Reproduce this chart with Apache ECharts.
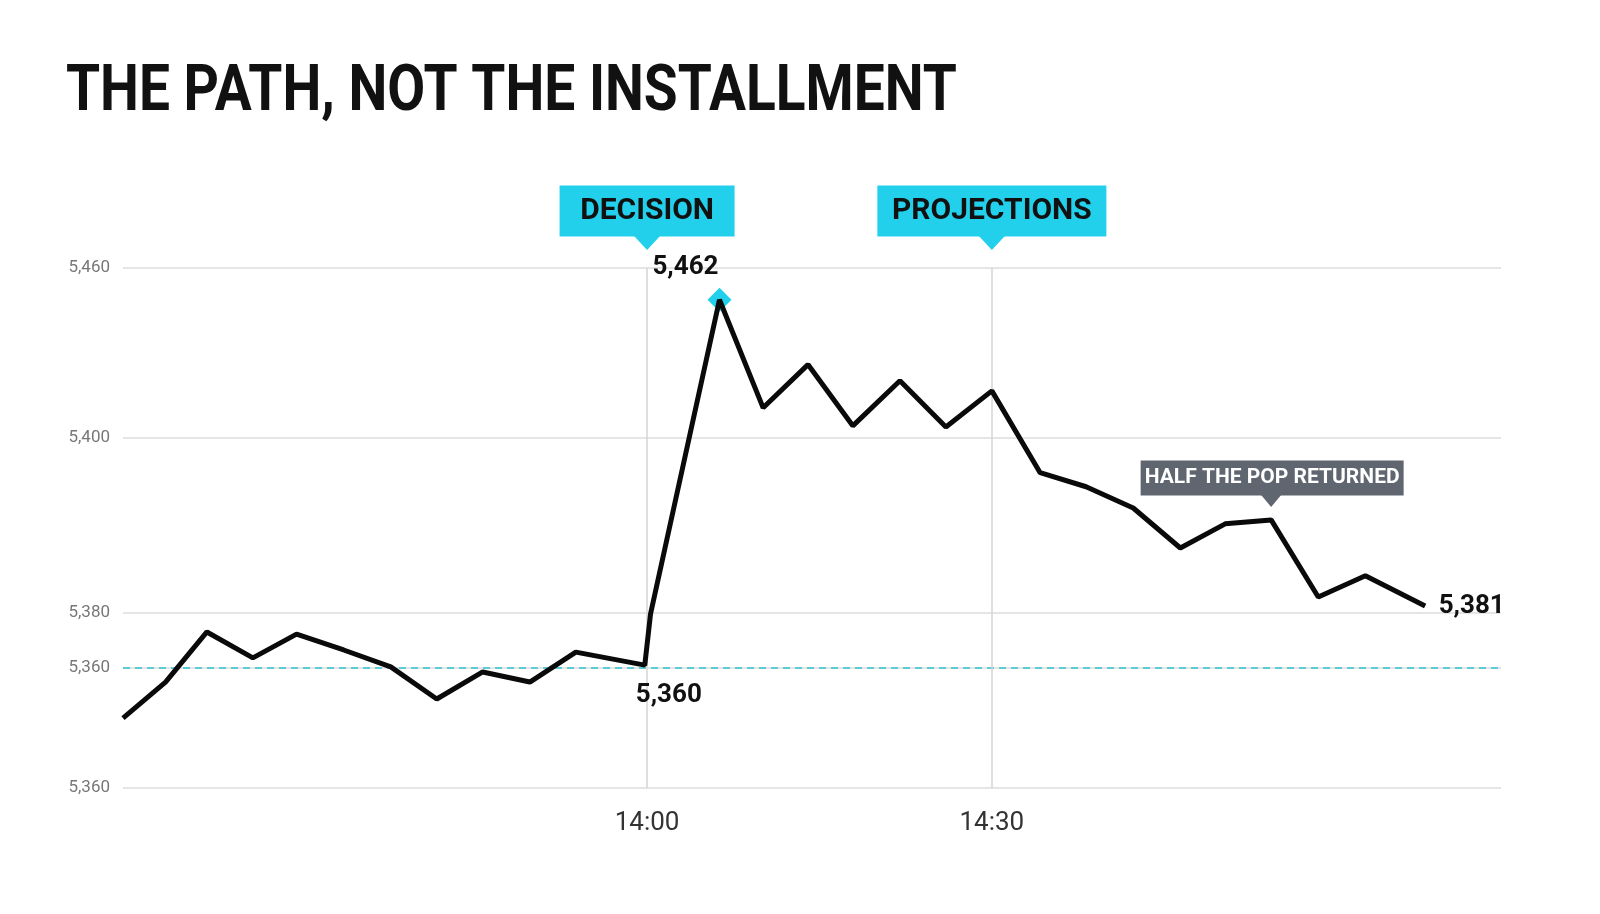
<!DOCTYPE html>
<html><head><meta charset="utf-8">
<script src="https://cdn.jsdelivr.net/npm/echarts@6/dist/echarts.min.js"></script>
<style>html,body{margin:0;background:#fff}#c{width:1600px;height:914px}</style>
</head><body><div id="c"></div>
<script>
// minutes since midnight
const times = [794.4,798.1,801.7,805.7,809.5,813.6,817.7,821.7,825.7,829.8,833.8,839.8,840.3,846.3,850.1,854,857.9,862,866,870,874.2,878.2,882.3,886.4,890.3,894.3,898.4,902.5,907.7];
const values = [5346.1,5356.1,5370,5362.8,5369.4,5365,5360.3,5351.4,5358.9,5356.1,5364.4,5360.8,5375,5462.2,5432.2,5444.2,5427.2,5439.7,5426.9,5436.9,5414.2,5410.3,5404.4,5393.3,5400,5401.1,5379.7,5385.6,5377.2];
const yTickValues = [5471,5423.9,5375.3,5360,5326.7];
const yTickLabels = ['5,460','5,400','5,380','5,360','5,360'];
const xTickValues = [840,870];
const xTickLabels = ['14:00','14:30'];
const baseline = 5360;
const CY = '#22d0ec';
const F = 'Roboto';
const yMin = 5326.7, yMax = 5471, xMin = 794.4, xMax = 914.3;

const chart = echarts.init(document.getElementById('c'));
const gridLines = yTickValues.map((v,i)=>({yAxis:v, lineStyle:{color:'#dddddd',width:1.5,type:'solid'},
  label:{show:true,position:'start',formatter:yTickLabels[i],color:'#777',fontFamily:F,fontSize:17,distance:13}}));
const vLines = xTickValues.map(v=>[{coord:[v,yMin]},{coord:[v,yMax]}]);
chart.setOption({
  animation:false,
  graphic:[{type:'text',left:66,top:62,scaleX:0.86,style:{text:'THE PATH, NOT THE INSTALLMENT',font:'bold 64px Roboto',fill:'#111'}}],
  grid:{left:123,right:99,top:268,bottom:126},
  xAxis:{type:'value',min:xMin,max:xMax,splitLine:{show:false},axisLine:{show:false},axisTick:{show:false},
    axisLabel:{customValues:xTickValues,formatter:v=>xTickLabels[xTickValues.indexOf(v)]||'',color:'#333',fontFamily:F,fontSize:26,margin:22}},
  yAxis:{type:'value',min:yMin,max:yMax,splitLine:{show:false},axisLabel:{show:false},axisLine:{show:false},axisTick:{show:false}},
  series:[
    {type:'line',data:[],markLine:{silent:true,symbol:'none',data:gridLines.concat([
      {yAxis:baseline,lineStyle:{color:'#2fc4cf',width:1.5,type:[7,5]},label:{show:false}}])}},
    {type:'line',data:[],markLine:{silent:true,symbol:'none',label:{show:false},lineStyle:{color:'#d5d5d5',width:1.5,type:'solid'},data:vLines}},
    {type:'line',data:times.map((t,i)=>[t,values[i]]),showSymbol:false,lineStyle:{color:'#0a0a0a',width:5},z:5,
     markPoint:{silent:true,data:[
       {coord:[times[13],values[13]],symbol:'diamond',symbolSize:[24,24],itemStyle:{color:CY},label:{show:true,formatter:'5,462',position:'top',offset:[-34,-2],color:'#111',fontFamily:F,fontWeight:'bold',fontSize:26}},
       {coord:[times[11],values[11]],symbol:'circle',symbolSize:1,itemStyle:{color:'transparent'},label:{show:true,formatter:'5,360',position:'bottom',offset:[24,12],color:'#111',fontFamily:F,fontWeight:'bold',fontSize:26}},
       {coord:[times[28],values[28]],symbol:'circle',symbolSize:1,itemStyle:{color:'transparent'},label:{show:true,formatter:'5,381',position:'right',offset:[8,0],color:'#111',fontFamily:F,fontWeight:'bold',fontSize:26}},
       {coord:[840,yMax],symbol:'rect',symbolSize:[175,51],symbolOffset:[0,-57],itemStyle:{color:CY},label:{show:true,position:'inside',formatter:'DECISION',color:'#111',fontFamily:F,fontWeight:'bold',fontSize:30}},
       {coord:[840,yMax],symbol:'triangle',symbolRotate:180,symbolSize:[26,14],symbolOffset:[0,-25],itemStyle:{color:CY},label:{show:false}},
       {coord:[870,yMax],symbol:'rect',symbolSize:[229,51],symbolOffset:[0,-57],itemStyle:{color:CY},label:{show:true,position:'inside',formatter:'PROJECTIONS',color:'#111',fontFamily:F,fontWeight:'bold',fontSize:30}},
       {coord:[870,yMax],symbol:'triangle',symbolRotate:180,symbolSize:[26,14],symbolOffset:[0,-25],itemStyle:{color:CY},label:{show:false}},
       {coord:[times[25],values[25]],symbol:'rect',symbolSize:[263,35],symbolOffset:[1,-42],itemStyle:{color:'#5f6670'},label:{show:true,position:'inside',formatter:'HALF THE POP RETURNED',color:'#fff',fontFamily:F,fontWeight:'bold',fontSize:21}},
       {coord:[times[25],values[25]],symbol:'triangle',symbolRotate:180,symbolSize:[20,12],symbolOffset:[0,-19],itemStyle:{color:'#5f6670'},label:{show:false}}
     ]}}
  ]
});
</script></body></html>
